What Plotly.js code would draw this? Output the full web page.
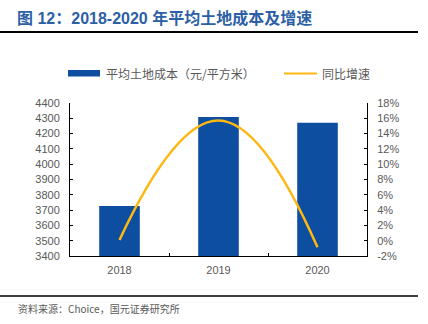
<!DOCTYPE html>
<html><head><meta charset="utf-8">
<script src="https://cdn.plot.ly/plotly-3.0.1.min.js"></script>
<style>html,body{margin:0;padding:0;background:#fff;}#chart{width:428px;height:324px;}</style>
</head><body><div id="chart"></div>
<script>
const years = ['2018', '2019', '2020'];
const landCost = [3727, 4308, 4271];
const growth = [0.001, 0.157, -0.0087];
const growthTickVals = [-0.02, 0, 0.02, 0.04, 0.06, 0.08, 0.10, 0.12, 0.14, 0.16, 0.18];
const growthTickText = ['-2%', '0%', '2%', '4%', '6%', '8%', '10%', '12%', '14%', '16%', '18%'];
const costName = '平均土地成本（元/平方米）';
const growthName = '同比增速';
const titleText = '图 12：2018-2020 年平均土地成本及增速';
const sourceText = '资料来源：Choice，国元证券研究所';

const W = 428, H = 324, L = 70, R = 367, T = 103, B = 256;
const px = x => (x - L) / (R - L);
const py = y => (B - y) / (B - T);
const CJK = '"Noto Sans CJK SC", "Liberation Sans", sans-serif';
const MIX = '"Liberation Sans", "Noto Sans CJK SC", sans-serif';
const NUM = '"Liberation Sans", Arial, sans-serif';
const BLUE = '#0D4EA1', GOLD = '#FDB813', GRAY = '#595959';

const traces = [
  {type: 'bar', x: years, y: landCost, name: costName, marker: {color: BLUE}, width: 0.41, showlegend: false, yaxis: 'y'},
  {type: 'scatter', mode: 'lines', x: years, y: growth, name: growthName, yaxis: 'y2',
   line: {color: GOLD, width: 2.5, shape: 'spline', smoothing: 1.3}, showlegend: false}
];

const layout = {
  width: W, height: H,
  margin: {l: L, r: W - R, t: T, b: H - B, pad: 0},
  paper_bgcolor: '#fff', plot_bgcolor: '#fff',
  title: {text: titleText, font: {family: MIX, size: 16, color: '#2D5FA6', weight: 'bold'},
          x: 17 / W, xanchor: 'left', xref: 'container', y: 1 - 18 / H, yanchor: 'middle', yref: 'container'},
  xaxis: {type: 'category', showgrid: false, showline: true, linecolor: '#000', linewidth: 1,
          ticks: '', tickfont: {family: NUM, size: 11, color: GRAY}, ticklabelstandoff: 4, zeroline: false},
  yaxis: {range: [3400, 4400], dtick: 100, showgrid: false, showline: true, linecolor: '#000', linewidth: 1,
          ticks: 'inside', ticklen: 3, tickcolor: '#000', tickfont: {family: NUM, size: 11, color: GRAY},
          ticklabelstandoff: 7, zeroline: false},
  yaxis2: {overlaying: 'y', side: 'right', range: [-0.02, 0.18], tickmode: 'array', tickvals: growthTickVals, ticktext: growthTickText,
           showgrid: false, showline: true, linecolor: '#000', linewidth: 1, ticks: 'inside', ticklen: 3, tickcolor: '#000',
           tickfont: {family: NUM, size: 11, color: GRAY}, ticklabelstandoff: 7, zeroline: false},
  shapes: [
    {type: 'line', xref: 'paper', yref: 'paper', x0: px(0), x1: px(418), y0: py(32), y1: py(32), line: {color: '#000', width: 2}},
    {type: 'line', xref: 'paper', yref: 'paper', x0: px(0), x1: px(418), y0: py(296), y1: py(296), line: {color: '#000', width: 1.5}},
    {type: 'rect', xref: 'paper', yref: 'paper', x0: px(68), x1: px(100), y0: py(76.5), y1: py(70), fillcolor: BLUE, line: {width: 0}},
    {type: 'line', xref: 'paper', yref: 'paper', x0: px(284), x1: px(317), y0: py(73.5), y1: py(73.5), line: {color: GOLD, width: 2}},
    {type: 'line', xref: 'paper', yref: 'paper', x0: px(169.5), x1: px(169.5), y0: 0, y1: py(253), line: {color: '#000', width: 1}},
    {type: 'line', xref: 'paper', yref: 'paper', x0: px(268.5), x1: px(268.5), y0: 0, y1: py(253), line: {color: '#000', width: 1}}
  ],
  annotations: [
    {xref: 'paper', yref: 'paper', x: px(104), y: py(73.5), xanchor: 'left', yanchor: 'middle', showarrow: false,
     text: costName, font: {family: CJK, size: 12, color: GRAY}},
    {xref: 'paper', yref: 'paper', x: px(320), y: py(73.5), xanchor: 'left', yanchor: 'middle', showarrow: false,
     text: growthName, font: {family: CJK, size: 12, color: GRAY}},
    {xref: 'paper', yref: 'paper', x: px(16), y: py(308), xanchor: 'left', yanchor: 'middle', showarrow: false,
     text: sourceText, font: {family: CJK, size: 10, color: GRAY}}
  ]
};
Plotly.newPlot('chart', traces, layout, {displayModeBar: false, staticPlot: true});
</script></body></html>
